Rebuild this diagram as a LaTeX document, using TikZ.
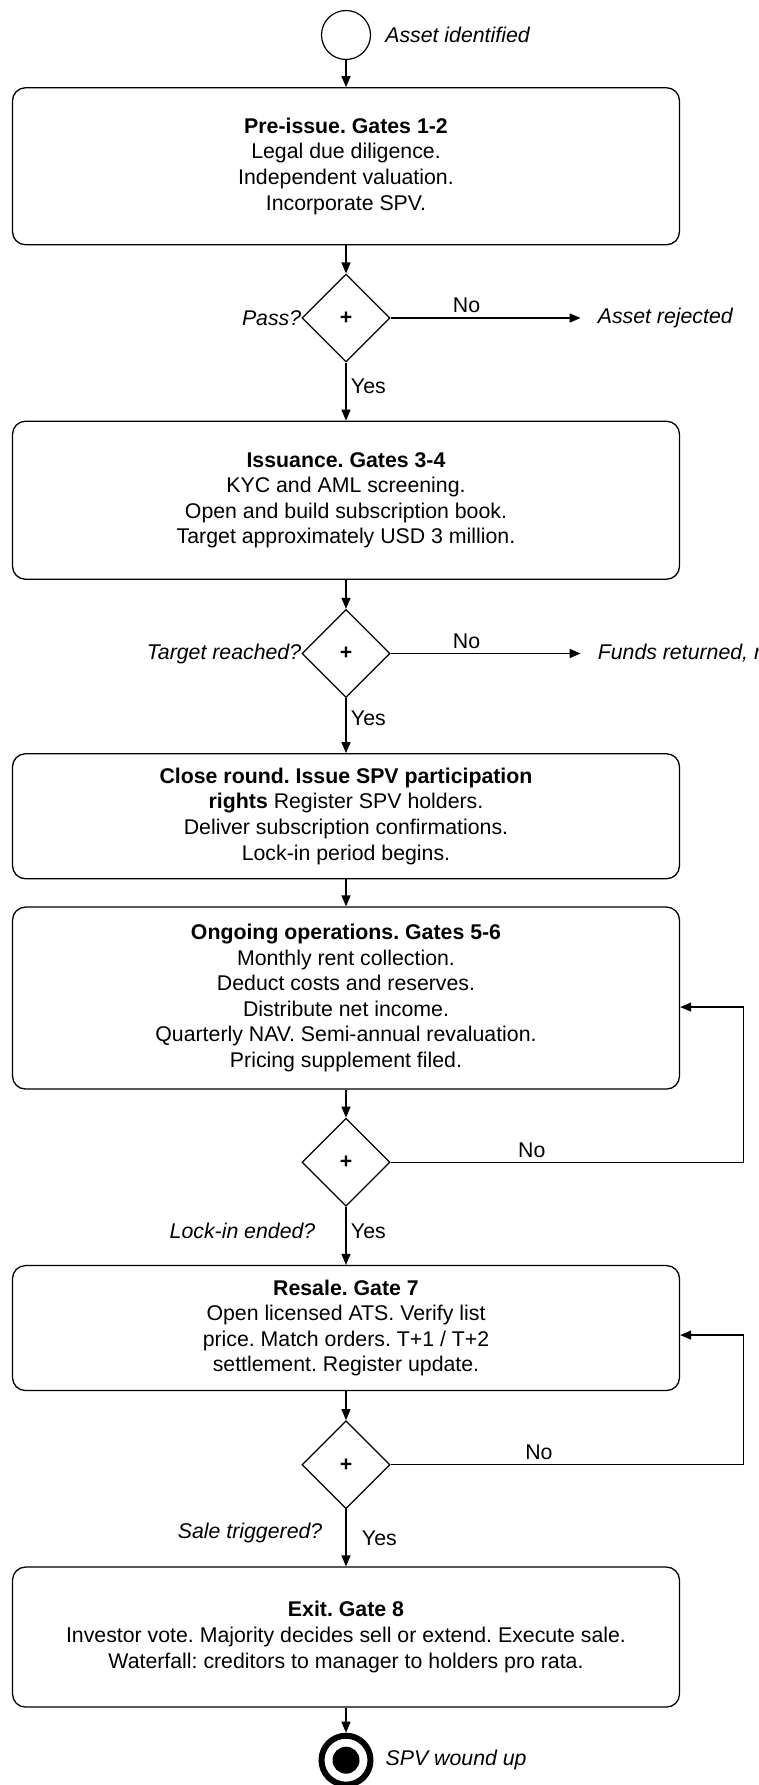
\documentclass[tikz,border=0pt]{standalone}
\usepackage{fontspec}
\setmainfont{Liberation Sans}
\usetikzlibrary{positioning, shapes.geometric, arrows.meta}
\frenchspacing

\begin{document}
\begin{tikzpicture}[x=1pt, y=-1pt,
        every node/.style={font=\fontsize{21.3}{25.6}\selectfont},
        stage/.style={rectangle, rounded corners=13pt, draw, line width=1.3pt, minimum width=667pt, align=center, inner sep=4pt},
        gate/.style={diamond, draw, line width=1.2pt, minimum width=88pt, minimum height=88pt, inner sep=0pt, font=\fontsize{21.3}{25.6}\selectfont\bfseries},
        note/.style={font=\fontsize{21.3}{25.6}\selectfont\itshape, inner sep=0pt},
        flow/.style={-{Triangle[length=11pt, width=9pt]}, line width=1.3pt}]
        \useasboundingbox (0,0) rectangle (758,1785);
        \node (start) [circle, draw, line width=1.2pt, minimum size=49pt, inner sep=0pt] at (346,35) {};
        \node (startlabel) [note, right=14pt of start] {Asset identified};
        \node (preissue) [stage, minimum height=157pt, below=27pt of start] {\textbf{Pre-issue. Gates 1-2}\\Legal due diligence.\\Independent valuation.\\Incorporate SPV.};
        \node (pass) [gate, below=28pt of preissue] {+};
        \node (passlabel) [note, left=0pt of pass] {Pass?};
        \node (rejected) [note, right=207pt of pass] {Asset rejected};
        \node (issuance) [stage, minimum height=158pt, below=58pt of pass] {\textbf{Issuance. Gates 3-4}\\KYC and AML screening.\\Open and build subscription book.\\Target approximately USD 3 million.};
        \node (target) [gate, below=29pt of issuance] {+};
        \node (targetlabel) [note, left=0pt of target] {Target reached?};
        \node (refund) [note, right=207pt of target] {Funds returned, r};
        \node (closing) [stage, minimum height=125pt, below=55pt of target] {\textbf{Close round. Issue SPV participation}\\\textbf{rights} Register SPV holders.\\Deliver subscription confirmations.\\Lock-in period begins.};
        \node (operations) [stage, minimum height=182pt, below=27pt of closing] {\textbf{Ongoing operations. Gates 5-6}\\Monthly rent collection.\\Deduct costs and reserves.\\Distribute net income.\\Quarterly NAV. Semi-annual revaluation.\\Pricing supplement filed.};
        \node (lockin) [gate, below=28pt of operations] {+};
        \node (resale) [stage, minimum height=125pt, below=58pt of lockin] {\textbf{Resale. Gate 7}\\Open licensed ATS. Verify list\\price. Match orders. T+1 / T+2\\settlement. Register update.};
        \node (sale) [gate, below=29pt of resale] {+};
        \node (exit) [stage, minimum height=140pt, below=57pt of sale] {\textbf{Exit. Gate 8}\\Investor vote. Majority decides sell or extend. Execute sale.\\Waterfall: creditors to manager to holders pro rata.};
        \node (wound) [circle, draw, line width=6pt, minimum size=49pt, inner sep=0pt, below=25pt of exit] {};
        \node (dot) [circle, fill, minimum size=27pt, inner sep=0pt] at (wound) {};
        \node (woundlabel) [note, right=12pt of wound] {SPV wound up};
        \draw[flow] (start) -- (preissue);
        \draw[flow] (preissue) -- (pass);
        \draw[flow] (pass) -- node[above=1pt, pos=0.4] {No} ([xshift=-17pt]rejected.west);
        \draw[flow] (pass) -- node[right=1pt, pos=0.4] {Yes} (issuance);
        \draw[flow] (issuance) -- (target);
        \draw[flow] (target) -- node[above=1pt, pos=0.4] {No} ([xshift=-17pt]refund.west);
        \draw[flow] (target) -- node[right=1pt, pos=0.37] {Yes} (closing);
        \draw[flow] (closing) -- (operations);
        \draw[flow] (operations) -- (lockin);
        \draw[flow] (lockin.east) -- node[above=1pt, pos=0.4] {No} ++(353,0) |- ([yshift=-9pt]operations.east);
        \draw[flow] (lockin) -- node[right=1pt, pos=0.42] {Yes} node[note, left=30pt, pos=0.42] {Lock-in ended?} (resale);
        \draw[flow] (resale) -- (sale);
        \draw[flow] (sale.east) -- node[above=1pt, pos=0.42] {No} ++(353,0) |- ([yshift=-7pt]resale.east);
        \draw[flow] (sale) -- node[right=12pt, pos=0.5] {Yes} node[note, left=23pt, pos=0.41] {Sale triggered?} (exit);
        \draw[flow] (exit) -- (wound);
\end{tikzpicture}
\end{document}
